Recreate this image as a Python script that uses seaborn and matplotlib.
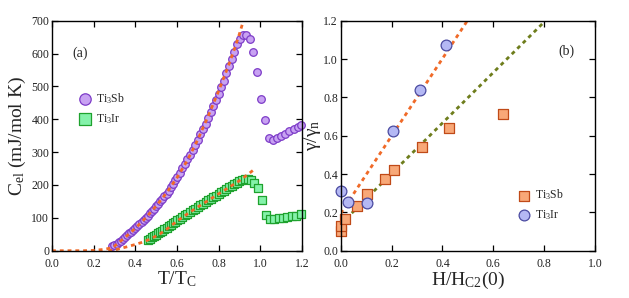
import matplotlib
matplotlib.use("Agg")
import matplotlib.pyplot as plt
import seaborn as sns
import numpy as np
import pandas as pd

# ---------------- data: panel (a) ----------------
sb_t = [0.29, 0.30, 0.31, 0.32, 0.33, 0.34, 0.35, 0.36, 0.37, 0.38, 0.39, 0.40,
        0.41, 0.42, 0.43, 0.44, 0.45, 0.46, 0.47, 0.48, 0.49, 0.50, 0.51, 0.52,
        0.53, 0.54, 0.55, 0.56, 0.57, 0.58, 0.59, 0.60, 0.6125, 0.625, 0.6375,
        0.65, 0.6625, 0.675, 0.6875, 0.70, 0.7125, 0.725, 0.7375, 0.75, 0.7625,
        0.775, 0.7875, 0.80, 0.8125, 0.825, 0.8375, 0.85, 0.8625, 0.875, 0.89,
        0.905, 0.918, 0.93, 0.95, 0.965, 0.985, 1.003, 1.022, 1.04, 1.06, 1.08,
        1.10, 1.12, 1.14, 1.16, 1.18, 1.197]
sb_C = [13, 17, 21, 26, 31, 36, 41, 47, 53, 58, 63, 68,
        74, 80, 86, 93, 100, 107, 114, 121, 128, 135, 142, 150,
        157, 165, 174, 183, 193, 203, 214, 225, 238, 251, 264,
        278, 292, 307, 322, 338, 354, 370, 386, 404, 421,
        439, 458, 478, 498, 518, 540, 562, 584, 606, 628,
        645, 655, 656, 643, 606, 543, 461, 398, 343, 336, 342,
        348, 356, 364, 370, 375, 382]

ir_t = [0.46, 0.47, 0.48, 0.49, 0.50, 0.51, 0.52, 0.53, 0.54, 0.55, 0.56, 0.57,
        0.58, 0.59, 0.60, 0.6125, 0.625, 0.6375, 0.65, 0.6625, 0.675, 0.6875,
        0.70, 0.7125, 0.725, 0.7375, 0.75, 0.7625, 0.775, 0.7875, 0.80, 0.8125,
        0.825, 0.8375, 0.85, 0.8625, 0.875, 0.8875, 0.90, 0.9125, 0.925, 0.94,
        0.955, 0.97, 0.987, 1.006, 1.026, 1.047, 1.068, 1.09, 1.11, 1.13, 1.15,
        1.17, 1.195]
ir_C = [34, 37, 41, 45, 49, 53, 57, 61, 66, 70, 75, 79,
        84, 88, 93, 98, 103, 108, 113, 118, 123, 128,
        133, 138, 143, 148, 153, 158, 163, 168, 173, 178,
        183, 188, 193, 198, 203, 207, 211, 214, 217, 219,
        216, 207, 191, 154, 108, 97, 97, 99, 101, 103, 105,
        106, 111]

fit_up_t = [0.0, 0.05, 0.10, 0.15, 0.20, 0.25, 0.28, 0.30, 0.35, 0.40, 0.45, 0.50,
            0.55, 0.60, 0.65, 0.70, 0.75, 0.80, 0.85, 0.875, 0.90, 0.92]
fit_up_C = [0, 0, 0, 0, 1, 4, 8, 14, 40, 68, 100, 136,
            176, 222, 275, 338, 410, 486, 568, 612, 660, 702]
fit_lo_t = [0.27, 0.30, 0.33, 0.36, 0.40, 0.44, 0.48, 0.52, 0.56, 0.60, 0.65,
            0.70, 0.75, 0.80, 0.85, 0.90, 0.94, 0.976]
fit_lo_C = [0, 2, 7, 12, 19, 27, 38, 52, 70, 90, 112,
            133, 153, 173, 193, 213, 232, 250]

# ---------------- data: panel (b) ----------------
gsb_h = [0.0, 0.003, 0.017, 0.063, 0.105, 0.173, 0.211, 0.321, 0.427, 0.637]
gsb_g = [0.104, 0.129, 0.165, 0.233, 0.296, 0.374, 0.423, 0.539, 0.638, 0.713]
gir_h = [0.0, 0.030, 0.105, 0.207, 0.312, 0.414]
gir_g = [0.313, 0.252, 0.249, 0.623, 0.838, 1.071]
fitb_or_h = [0.0, 0.498]
fitb_or_g = [0.195, 1.2]
fitb_gr_h = [0.0, 0.805]
fitb_gr_g = [0.139, 1.2]

# ---------------- style ----------------
sns.set_theme(style="white")
plt.rcParams['font.family'] = ['Liberation Serif', 'DejaVu Serif']
plt.rcParams['mathtext.fontset'] = 'custom'
plt.rcParams['mathtext.rm'] = 'Liberation Serif'
plt.rcParams['mathtext.it'] = 'Liberation Serif:italic'
plt.rcParams['mathtext.bf'] = 'Liberation Serif:bold'

fig = plt.figure(figsize=(6.29, 2.98), dpi=100)
ax1 = fig.add_axes([0.0827, 0.1587, 0.3973, 0.7718])
ax2 = fig.add_axes([0.5417, 0.1587, 0.4043, 0.7718])

orange = '#f06a28'
olive = '#6e7d1c'
dots = (0, (1.4, 1.4))

# panel (a)
sns.lineplot(x=fit_up_t, y=fit_up_C, ax=ax1, color=orange, lw=2.0,
             linestyle=dots, sort=False, zorder=3)
sns.lineplot(x=fit_lo_t, y=fit_lo_C, ax=ax1, color=orange, lw=2.0,
             linestyle=dots, sort=False, zorder=3)
sns.scatterplot(x=sb_t, y=sb_C, ax=ax1, marker='o', s=30, color='#c8a2f2',
                edgecolor='#7d3cc8', linewidth=0.9, label=r'Ti$_3$Sb', zorder=2,
                clip_on=False)
sns.scatterplot(x=ir_t, y=ir_C, ax=ax1, marker='s', s=28, color='#84f2aa',
                edgecolor='#1fa22e', linewidth=0.9, label=r'Ti$_3$Ir', zorder=2,
                clip_on=False)
ax1.set_xlim(0, 1.2)
ax1.set_ylim(0, 700)
ax1.set_xticks(np.arange(0, 1.21, 0.2))
ax1.set_yticks(np.arange(0, 701, 100))
ax1.set_xticklabels([f'{v:.1f}' for v in np.arange(0, 1.21, 0.2)])
ax1.set_xlabel(r'T/T$_\mathrm{C}$', fontsize=14, labelpad=0)
ax1.set_ylabel(r'C$_\mathrm{el}$ (mJ/mol K)', fontsize=14, labelpad=2)
ax1.text(0.1, 601, '(a)', fontsize=10, va='center', ha='left')
ax1.legend(loc='upper left', bbox_to_anchor=(0.08, 0.72), frameon=False,
           fontsize=8.5, handletextpad=0.3, labelspacing=0.5, borderpad=0,
           markerscale=1.5, handlelength=1.2)

# panel (b)
sns.lineplot(x=fitb_or_h, y=fitb_or_g, ax=ax2, color=orange, lw=2.0,
             linestyle=dots, zorder=1)
sns.lineplot(x=fitb_gr_h, y=fitb_gr_g, ax=ax2, color=olive, lw=2.0,
             linestyle=dots, zorder=1)
sns.scatterplot(x=gsb_h, y=gsb_g, ax=ax2, marker='s', s=55, color='#f8a878',
                edgecolor='#c04a18', linewidth=0.9, label=r'Ti$_3$Sb', zorder=2,
                clip_on=False)
sns.scatterplot(x=gir_h, y=gir_g, ax=ax2, marker='o', s=60, color='#b4b8f4',
                edgecolor='#4a4aa0', linewidth=0.9, label=r'Ti$_3$Ir', zorder=2,
                clip_on=False)
ax2.set_xlim(0, 1.0)
ax2.set_ylim(0, 1.2)
ax2.set_xticks(np.arange(0, 1.01, 0.2))
ax2.set_yticks(np.arange(0, 1.21, 0.2))
ax2.set_xticklabels([f'{v:.1f}' for v in np.arange(0, 1.01, 0.2)])
ax2.set_yticklabels([f'{v:.1f}' for v in np.arange(0, 1.21, 0.2)])
ax2.set_xlabel(r'H/H$_\mathrm{C2}$(0)', fontsize=14, labelpad=0)
ax2.set_ylabel(r'γ/γ$_\mathrm{n}$', fontsize=14, labelpad=0)
ax2.text(0.855, 1.043, '(b)', fontsize=10, va='center', ha='left')
ax2.legend(loc='upper left', bbox_to_anchor=(0.67, 0.30), frameon=False,
           fontsize=8.5, handletextpad=0.3, labelspacing=0.5, borderpad=0,
           markerscale=1.0, handlelength=1.2)

for ax in (ax1, ax2):
    for sp in ax.spines.values():
        sp.set_color('black')
        sp.set_linewidth(1.0)
        sp.set_zorder(4)
    ax.tick_params(direction='in', length=4, width=0.9, top=True, right=True,
                   bottom=True, left=True, labelsize=8.5, colors='black', pad=2)
    ax.tick_params(axis='x', pad=5)
    for lab in ax.get_xticklabels() + ax.get_yticklabels():
        lab.set_color('#222222')

fig.savefig('out.png', dpi=100, facecolor='white')
